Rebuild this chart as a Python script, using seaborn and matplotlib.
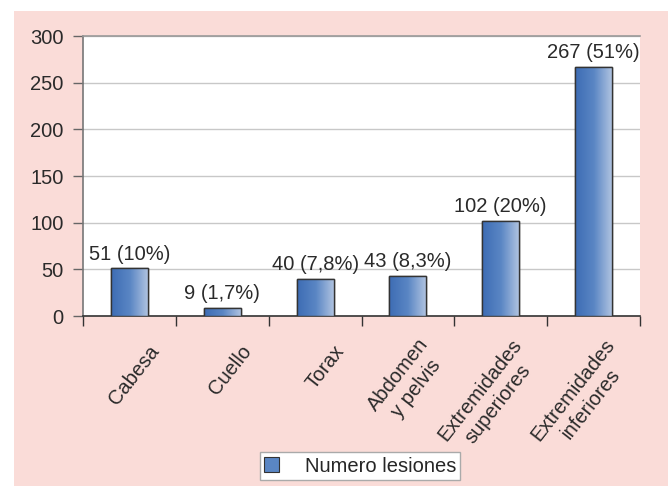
import matplotlib
matplotlib.use("Agg")
import matplotlib.pyplot as plt
import numpy as np
import pandas as pd
import seaborn as sns
from matplotlib.colors import LinearSegmentedColormap
from matplotlib.patches import Rectangle
from matplotlib.transforms import offset_copy

categories = [
    "Cabesa",
    "Cuello",
    "Torax",
    "Abdomen\ny pelvis",
    "Extremidades\nsuperiores",
    "Extremidades\ninferiores",
]
lesiones = [51, 9, 40, 43, 102, 267]
bar_labels = ["51 (10%)", "9 (1,7%)", "40 (7,8%)", "43 (8,3%)", "102 (20%)", "267 (51%)"]
y_ticks = [0, 50, 100, 150, 200, 250, 300]
legend_label = "Numero lesiones"

PINK = "#fadcd8"
TEXT = "#2a2a2a"
FS = 14.5
gradient = LinearSegmentedColormap.from_list("bar", ["#3d6cb4", "#5a86c4", "#b4c6e2"])

sns.set_theme(style="white")
plt.rcParams["font.family"] = ["Liberation Sans", "DejaVu Sans"]

frame = pd.DataFrame({"region": categories, "lesiones": lesiones})

fig = plt.figure(figsize=(6.7, 4.86), dpi=100)
fig.patch.set_facecolor("white")
fig.add_artist(Rectangle((14 / 670, 0), 654 / 670, 1 - 11 / 486,
                         transform=fig.transFigure, facecolor=PINK,
                         edgecolor="none", zorder=-10))

ax = fig.add_axes([83 / 670, 1 - 316 / 486, 557 / 670, 280 / 486])
ax.set_facecolor("white")

sns.barplot(data=frame, x="region", y="lesiones", color="#3d6cb4",
            width=0.4, edgecolor="#333333", linewidth=1.0, ax=ax, zorder=3)

# horizontal gradient fill clipped to each bar
grad = np.linspace(0, 1, 256).reshape(1, -1)
for patch in ax.patches:
    x0, y0 = patch.get_x(), patch.get_y()
    w, h = patch.get_width(), patch.get_height()
    im = ax.imshow(grad, cmap=gradient, aspect="auto",
                   extent=(x0, x0 + w, y0, y0 + h), zorder=3.5)
    im.set_clip_path(patch)
    ax.add_patch(Rectangle((x0, y0), w, h, fill=False,
                           edgecolor="#333333", linewidth=1.0, zorder=4))

for i, (val, lab) in enumerate(zip(lesiones, bar_labels)):
    ax.text(i, val + 5, lab, ha="center", va="bottom", fontsize=FS,
            color=TEXT, zorder=5)

ax.set_xlim(-0.5, len(categories) - 0.5)
ax.set_ylim(0, 300)
ax.set_yticks(y_ticks)
ax.set_yticklabels([str(t) for t in y_ticks], fontsize=FS, color=TEXT)
ax.yaxis.grid(True, color="#c8c8c8", linewidth=1.0)
ax.set_axisbelow(True)
ax.tick_params(axis="y", length=7, width=1, color="#666666", pad=7, left=True)

# category boundary ticks on x
ax.set_xticks(np.arange(-0.5, len(categories), 1.0))
ax.set_xticklabels([])
ax.tick_params(axis="x", length=7, width=1, color="#333333", bottom=True)

label_trans = offset_copy(ax.get_xaxis_transform(), fig=fig, x=26, y=-32, units="dots")
for i, name in enumerate(categories):
    ax.text(i, 0, name, transform=label_trans, rotation=52, rotation_mode="anchor",
            ha="right", va="center", multialignment="center", fontsize=FS,
            color=TEXT, linespacing=1.25)

ax.set_xlabel("")
ax.set_ylabel("")
ax.spines["left"].set_color("#777777")
ax.spines["left"].set_linewidth(1.2)
ax.spines["bottom"].set_color("#333333")
ax.spines["bottom"].set_linewidth(1.2)
ax.spines["top"].set_color("#999999")
ax.spines["top"].set_linewidth(1.2)
ax.spines["right"].set_visible(False)

handle = Rectangle((0, 0), 1, 1, facecolor="#5a86c4", edgecolor="#333333", linewidth=0.8)
fig.legend([handle], [legend_label], loc="center", bbox_to_anchor=(360 / 670, 1 - 466 / 486),
           frameon=True, fancybox=False, edgecolor="#aaaaaa", facecolor="white",
           fontsize=FS, handlelength=0.75, handleheight=0.75, borderpad=0.2,
           borderaxespad=0, handletextpad=1.3, framealpha=1)

fig.savefig("out.png", dpi=100, facecolor=fig.get_facecolor())
